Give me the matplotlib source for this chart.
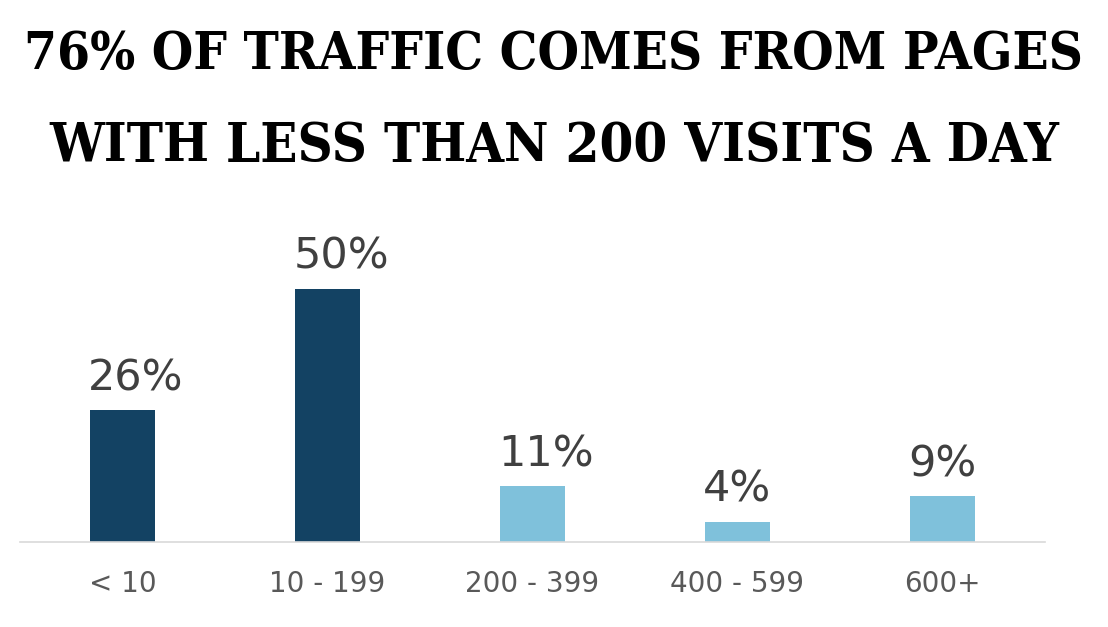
import matplotlib
matplotlib.use("Agg")
import matplotlib.pyplot as plt

# data
categories = ["< 10", "10 - 199", "200 - 399", "400 - 599", "600+"]
shares = [26, 50, 11, 4, 9]
value_labels = ["26%", "50%", "11%", "4%", "9%"]
title_lines = ["76% OF TRAFFIC COMES FROM PAGES", "WITH LESS THAN 200 VISITS A DAY"]

dark = "#134263"
light = "#7fc1db"
bar_colors = [dark, dark, light, light, light]
bar_w = 0.32

fig = plt.figure(figsize=(11.08, 6.27), dpi=100)
ax = fig.add_axes([20 / 1108, 85 / 627, 1025 / 1108, 292 / 627])

xs = range(len(categories))
ax.bar(xs, shares, width=bar_w, color=bar_colors, zorder=2)
# labels sit flush with the left edge of each bar, as in the original
for x, v, lab in zip(xs, shares, value_labels):
    ax.annotate(lab, (x - bar_w / 2, v), xytext=(-1, 8), textcoords="offset points",
                ha="left", va="bottom", fontsize=31, color="#404040",
                family="DejaVu Sans")

ax.set_xlim(-0.5, len(categories) - 0.5)
ax.set_ylim(0, 57.6)
ax.set_xticks(list(xs))
ax.set_xticklabels(categories, fontsize=20, color="#595959", family="DejaVu Sans")
ax.tick_params(axis="x", length=0, pad=20)
ax.set_yticks([])
for s in ["top", "left", "right"]:
    ax.spines[s].set_visible(False)
ax.spines["bottom"].set_color("#d9d9d9")
ax.spines["bottom"].set_linewidth(1.2)

# title, fitted to the width of the reference headline
renderer = fig.canvas.get_renderer()
for line, y in zip(title_lines, [0.913, 0.766]):
    t = fig.text(0.5, y, line, ha="center", va="center", fontsize=60,
                 fontweight="bold", fontstretch="condensed", color="black",
                 family=["DejaVu Serif", "Liberation Serif"])
    w = t.get_window_extent(renderer).width
    target = 1060 if line.startswith("76") else 1010
    t.set_fontsize(60 * target / w)

fig.savefig("out.png", dpi=100, facecolor="white")
